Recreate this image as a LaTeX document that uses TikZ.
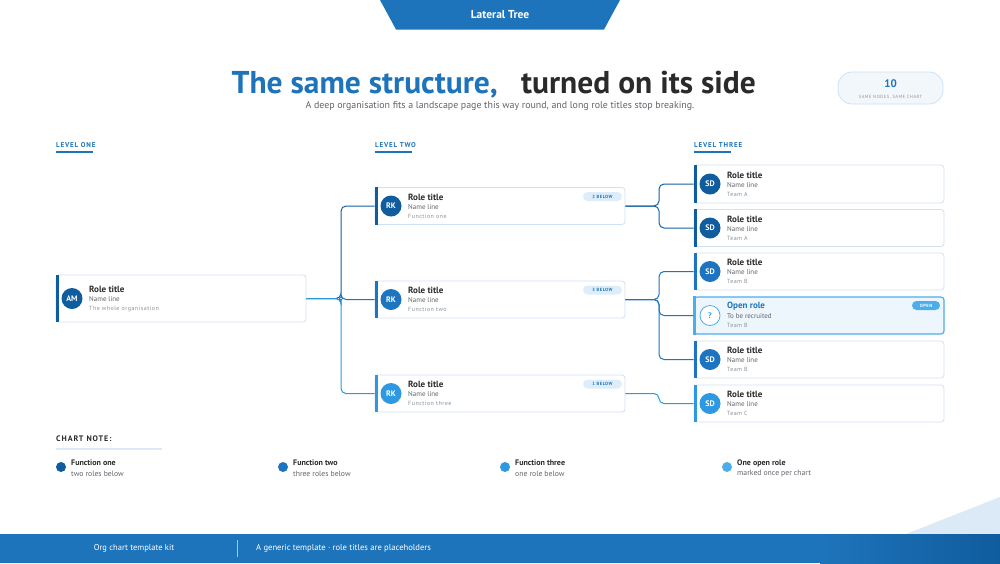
\documentclass[tikz,border=0pt]{standalone}
\usepackage{fontspec}
\setmainfont{PT Sans}
\newfontfamily\spaced[LetterSpace=12]{PT Sans}
\newfontfamily\lspaced[LetterSpace=8]{PT Sans}
\usetikzlibrary{calc}
\definecolor{tblue}{HTML}{1E74BB}
\definecolor{tdark}{HTML}{0F5C9E}
\definecolor{ctwo}{HTML}{1D74C0}
\definecolor{cthree}{HTML}{2E98E0}
\definecolor{copen}{HTML}{4CADEB}
\definecolor{ink}{HTML}{2A2A2A}
\definecolor{grey}{HTML}{60646C}
\definecolor{lgrey}{HTML}{8C9099}
\definecolor{cardline}{HTML}{CFE2F3}
\definecolor{pill}{HTML}{DDEEFA}
\definecolor{paleblue}{HTML}{DCE9F6}
\definecolor{openfill}{HTML}{EEF6FD}
\definecolor{badgefill}{HTML}{F2F7FC}
\tikzset{
  card/.style={draw=cardline, line width=0.8pt, fill=white, rounded corners=3pt, minimum width=250pt, inner sep=0pt},
  avatar/.style={circle, minimum size=21pt, inner sep=0pt, text=white, font=\bfseries\fontsize{8}{9}\selectfont},
  ttl/.style={anchor=west, inner sep=0pt, text=ink, font=\bfseries\fontsize{9}{10}\selectfont},
  nline/.style={anchor=west, inner sep=0pt, text=grey, font=\fontsize{7}{8}\selectfont},
  sline/.style={anchor=west, inner sep=0pt, text=lgrey, font=\lspaced\fontsize{6}{7}\selectfont},
  badge/.style={fill=pill, rounded corners=4.5pt, minimum width=39pt, minimum height=9pt, inner sep=0pt, text=tblue, font=\spaced\bfseries\fontsize{4.5}{5}\selectfont},
  conn/.style={line width=1pt, rounded corners=5pt},
  lvl/.style={anchor=west, inner sep=0pt, text=tblue, font=\spaced\bfseries\fontsize{7}{8}\selectfont},
  legdot/.style={circle, minimum size=10pt, inner sep=0pt},
  legt/.style={anchor=west, inner sep=0pt, text=ink, font=\bfseries\fontsize{8}{9}\selectfont},
  legs/.style={anchor=west, inner sep=0pt, text=grey, font=\fontsize{7.7}{9}\selectfont},
}
% \rolecard{name}{left x}{center y}{height}{colour}{initials}{title}{name line}{sub}
\newcommand\rolecard[9]{%
  \node[card, minimum height=#4pt] (#1) at (#2+125,#3) {};
  \fill[#5] (#1.north west) rectangle ([xshift=3pt]#1.south west);
  \node[avatar, fill=#5] (#1-av) at (#2+16,#3) {#6};
  \node[ttl] (#1-t) at (#2+33,#3-9) {#7};
  \node[nline] (#1-n) at (#2+33,#3+1) {#8};
  \node[sline] (#1-s) at (#2+33,#3+10) {#9};
}
\begin{document}
\begin{tikzpicture}[x=1pt,y=-1pt]
\useasboundingbox (0,0) rectangle (1000,563);
\fill[white] (0,0) rectangle (1000,563);
% top tab
\fill[tblue] (380,0) -- (620,0) -- (604,29.5) -- (396,29.5) -- cycle;
\node[text=white, font=\bfseries\fontsize{11.5}{13}\selectfont] (tab) at (500,15) {Lateral Tree};
% title
\node[anchor=base east, inner sep=0pt, text=tblue, font=\bfseries\fontsize{31.5}{34}\selectfont] (t1) at (498,93) {The same structure,};
\node[anchor=base west, inner sep=0pt, text=ink, font=\bfseries\fontsize{31.5}{34}\selectfont] (t2) at (521,93) {turned on its side};
\node[text=grey, font=\fontsize{9.9}{11}\selectfont] (sub) at (500,106) {A deep organisation fits a landscape page this way round, and long role titles stop breaking.};
% count badge
\draw[draw=cardline, fill=badgefill, line width=0.8pt, rounded corners=14pt] (838,72) rectangle (943,104);
\node[text=tblue, font=\bfseries\fontsize{11}{12}\selectfont] (cnt) at (890.5,84) {10};
\node[text=lgrey, font=\spaced\fontsize{4.5}{5}\selectfont] (cntl) at (890.5,97) {SAME NODES, SAME CHART};
% level labels
\node[lvl] (lv1) at (56,145) {LEVEL ONE};
\draw[tblue, line width=1.2pt] (56,152) -- (93,152);
\node[lvl] (lv2) at (375,145) {LEVEL TWO};
\draw[tblue, line width=1.2pt] (375,152) -- (412,152);
\node[lvl] (lv3) at (694,145) {LEVEL THREE};
\draw[tblue, line width=1.2pt] (694,152) -- (731,152);
% junction points
\coordinate (j1) at (341,298.5);
\coordinate (j2) at (659,206);
\coordinate (j3) at (659,299.5);
\coordinate (j4) at (659,393.5);
% level one
\node[card, minimum height=47pt] (L1) at (181,298.5) {};
\fill[tdark] (L1.north west) rectangle ([xshift=3pt]L1.south west);
\node[avatar, fill=tdark] (L1-av) at (72,298.5) {AM};
\node[ttl] (L1-t) at (89,289) {Role title};
\node[nline] (L1-n) at (89,299) {Name line};
\node[sline] (L1-s) at (89,309) {The whole organisation};
% level two
\rolecard{L2a}{375}{206}{37}{tdark}{RK}{Role title}{Name line}{Function one}
\node[badge] (b2a) at (602.5,196.5) {2 BELOW};
\rolecard{L2b}{375}{299.5}{37}{ctwo}{RK}{Role title}{Name line}{Function two}
\node[badge] (b2b) at (602.5,290) {3 BELOW};
\rolecard{L2c}{375}{393.5}{37}{cthree}{RK}{Role title}{Name line}{Function three}
\node[badge] (b2c) at (602.5,384) {1 BELOW};
% level three
\rolecard{L3a}{694}{184}{38}{tdark}{SD}{Role title}{Name line}{Team A}
\rolecard{L3b}{694}{228}{37}{tdark}{SD}{Role title}{Name line}{Team A}
\rolecard{L3c}{694}{271.5}{37}{ctwo}{SD}{Role title}{Name line}{Team B}
% open role
\node[card, draw=copen, line width=1.1pt, fill=openfill, minimum height=37pt] (L3d) at (819,315.5) {};
\fill[copen] (L3d.north west) rectangle ([xshift=3pt]L3d.south west);
\node[circle, draw=copen, fill=white, line width=0.8pt, minimum size=20pt, inner sep=0pt, text=cthree, font=\bfseries\fontsize{8}{9}\selectfont] (L3d-av) at (710,315.5) {?};
\node[ttl, text=ctwo] (L3d-t) at (727,306.5) {Open role};
\node[nline] (L3d-n) at (727,316.5) {To be recruited};
\node[sline] (L3d-s) at (727,325.5) {Team B};
\node[badge, fill=copen, text=white, minimum width=28pt] (bopen) at (926,305.5) {OPEN};
\rolecard{L3e}{694}{359.5}{37}{ctwo}{SD}{Role title}{Name line}{Team B}
\rolecard{L3f}{694}{403.5}{37}{cthree}{SD}{Role title}{Name line}{Team C}
% connectors
\draw[conn, tdark!80!tblue] (L1.east) -- (j1) |- (L2a.west);
\draw[conn, ctwo] (L1.east) -- (j1) |- (L2b.west);
\draw[conn, cthree] (L1.east) -- (j1) |- (L2c.west);
\draw[tblue, fill=white, line width=0.7pt] (j1) circle (1.6pt);
\draw[conn, tdark!80!tblue] (L2a.east) -- (j2) |- (L3a.west);
\draw[conn, tdark!80!tblue] (L2a.east) -- (j2) |- (L3b.west);
\draw[conn, ctwo] (L2b.east) -- (j3) |- (L3c.west);
\draw[conn, ctwo] (L2b.east) -- (j3) |- (L3d.west);
\draw[conn, ctwo] (L2b.east) -- (j3) |- (L3e.west);
\draw[conn, cthree] (L2c.east) -- (j4) |- (L3f.west);
% chart note
\node[anchor=west, inner sep=0pt, text=ink, font=\spaced\bfseries\fontsize{8}{9}\selectfont] (cn) at (56,439) {CHART NOTE:};
\draw[paleblue, line width=1.2pt] (56,449) -- (162,449);
\node[legdot, fill=tdark] (d1) at (61,467) {};
\node[legt] (d1t) at (71,463) {Function one};
\node[legs] (d1s) at (71,474) {two roles below};
\node[legdot, fill=ctwo] (d2) at (283,467) {};
\node[legt] (d2t) at (293,463) {Function two};
\node[legs] (d2s) at (293,474) {three roles below};
\node[legdot, fill=cthree] (d3) at (505,467) {};
\node[legt] (d3t) at (515,463) {Function three};
\node[legs] (d3s) at (515,474) {one role below};
\node[legdot, fill=copen] (d4) at (727,467) {};
\node[legt] (d4t) at (737,463) {One open role};
\node[legs] (d4s) at (737,474) {marked once per chart};
% corner triangle and footer
\fill[paleblue] (1000,497) -- (1000,534) -- (906,534) -- cycle;
\fill[tblue] (0,534) rectangle (1000,563);
\shade[left color=tblue, right color=tdark] (820,534) rectangle (1000,563);
\node[text=white, font=\fontsize{8.5}{10}\selectfont] (f1) at (134,548.5) {Org chart template kit};
\draw[white!60!tblue, line width=0.8pt] (237,540) -- (237,557);
\node[anchor=west, inner sep=0pt, text=white, font=\fontsize{8.6}{10}\selectfont] (f2) at (256,548.5) {A generic template · role titles are placeholders};
\end{tikzpicture}
\end{document}
